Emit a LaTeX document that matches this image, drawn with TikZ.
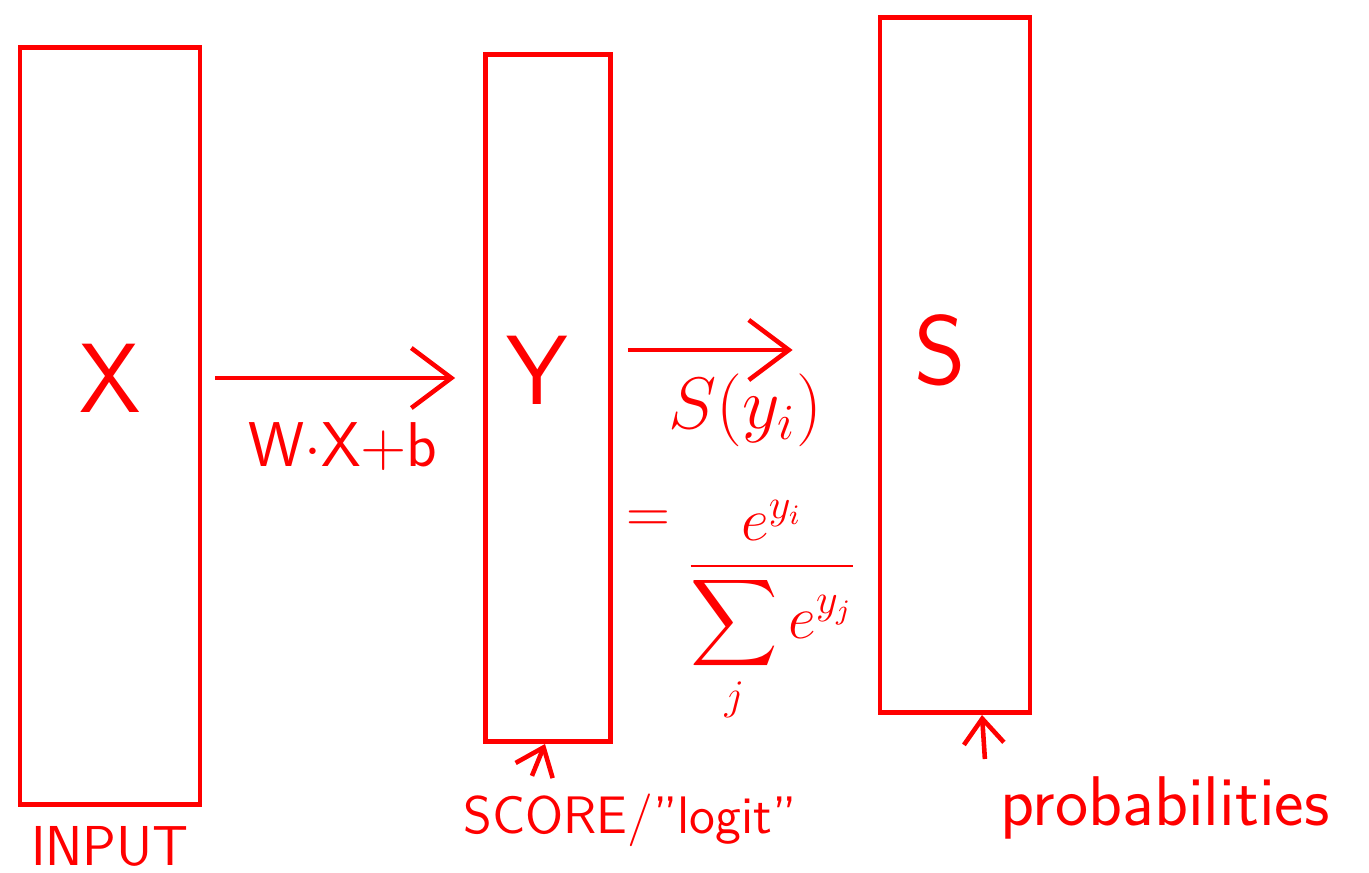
\documentclass[tikz,border=0pt]{standalone}
\usepackage{amsmath}
\usetikzlibrary{positioning, arrows.meta}
\definecolor{pen}{RGB}{255,0,0}

\begin{document}
\begin{tikzpicture}[
  x=0.01cm, y=-0.01cm,
  font=\sffamily,
  every node/.style={text=pen, inner sep=2pt},
  layer/.style={draw=pen, line width=1.3pt, rectangle, inner sep=0pt},
  big/.style={font=\sffamily\fontsize{28}{32}\selectfont},
  lbl/.style={font=\sffamily\fontsize{16}{19}\selectfont},
  arr/.style={-{Straight Barb[length=4mm, width=6mm]}, draw=pen, line width=1.3pt},
  tick/.style={-{Straight Barb[length=2.5mm, width=4mm]}, draw=pen, line width=1.3pt}
]
\useasboundingbox (0,0) rectangle (1369,873);

% three column vectors
\node[layer, minimum width=1.8cm, minimum height=7.57cm] (xbox) at (110,426) {};
\node[layer, minimum width=1.25cm, minimum height=6.87cm] (ybox) at (548,398) {};
\node[layer, minimum width=1.5cm, minimum height=6.95cm] (sbox) at (955,365) {};

\node[big] (xlab) at (110,378) {X};
\node[big] (ylab) at (537,370) {Y};
\node[big] (slab) at (940,350) {S};

% captions
\node[lbl, below=0.12cm of xbox] (input) {INPUT};
\node[lbl, font=\sffamily\fontsize{15}{18}\selectfont] (score) at (630,820) {SCORE/"logit"};
\node[lbl, font=\sffamily\fontsize{20}{24}\selectfont] (prob) at (1165,808) {probabilities};

% softmax formula
\node[font=\fontsize{18}{22}\selectfont, inner sep=0pt] (eq) at (648,522) {$=$};
\node[font=\fontsize{17}{21}\selectfont, inner sep=0pt] (softmax) at (772,612)
  {$\dfrac{e^{y_i}}{\displaystyle\sum_j e^{y_j}}$};

\draw[arr, shorten <=0.13cm, shorten >=0.28cm] (xbox.east |- xlab) -- node[below=0.35cm, font=\sffamily\fontsize{18}{22}\selectfont] (lin) {W$\cdot$X+b} (ybox.west |- xlab);
\draw[arr, shorten <=0.15cm, shorten >=0.85cm] (ybox.east |- slab) -- node[below=0.15cm, font=\fontsize{20}{24}\selectfont] (sy) {$S(y_i)$} (sbox.west |- slab);
\draw[tick] ([xshift=-0.98cm, yshift=0.1cm]score.north) -- ([xshift=-0.03cm]ybox.south);
\draw[tick] ([xshift=-1.8cm, yshift=0.1cm]prob.north) -- ([xshift=0.27cm]sbox.south);
\end{tikzpicture}
\end{document}
